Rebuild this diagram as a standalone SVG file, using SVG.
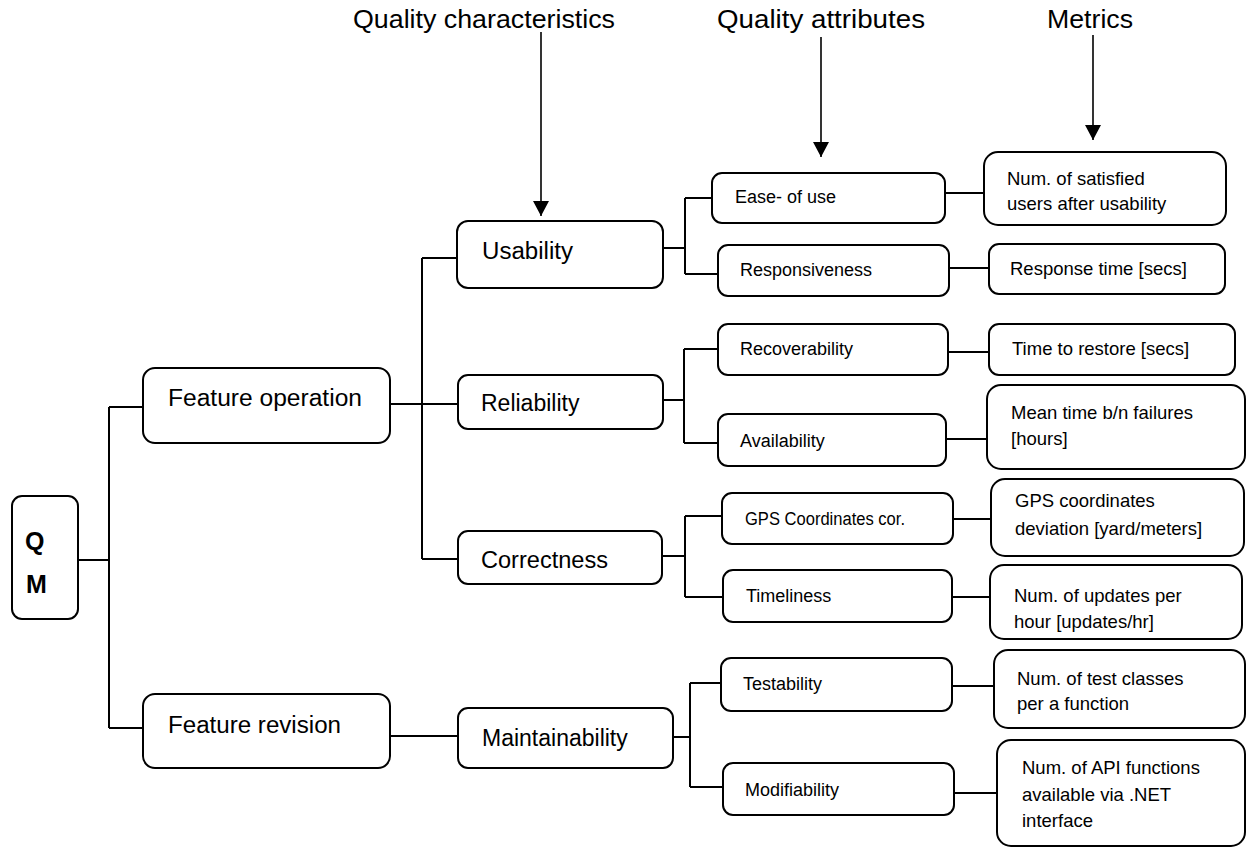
<svg xmlns="http://www.w3.org/2000/svg" width="1247" height="848" viewBox="0 0 1247 848">
<defs>
<style>
.box{fill:#fff;stroke:#000;stroke-width:2}
.ln{fill:none;stroke:#000;stroke-width:2}
.ar{fill:none;stroke:#000;stroke-width:1.6}
text{font-family:"Liberation Sans",Arial,sans-serif;fill:#000}
.h{font-size:26px}
.c{font-size:23px}
.a{font-size:18px}
.m{font-size:18.5px}
.b{font-size:25px;font-weight:bold}
</style>
<marker id="ah" viewBox="0 0 15 16" refX="15" refY="8" markerWidth="15" markerHeight="16" markerUnits="userSpaceOnUse" orient="auto">
<path d="M0,0 L15,8 L0,16 z" fill="#000"/>
</marker>
</defs>
<rect width="1247" height="848" fill="#fff"/>

<g id="headers">
<text class="h" x="353" y="28" textLength="262" lengthAdjust="spacingAndGlyphs">Quality characteristics</text>
<text class="h" x="717" y="28" textLength="208" lengthAdjust="spacingAndGlyphs">Quality attributes</text>
<text class="h" x="1047" y="28" textLength="86" lengthAdjust="spacingAndGlyphs">Metrics</text>
</g>

<g id="connectors">
<line class="ar" x1="541" y1="32" x2="541" y2="216" marker-end="url(#ah)"/>
<line class="ar" x1="821" y1="37" x2="821" y2="157" marker-end="url(#ah)"/>
<line class="ar" x1="1093" y1="35" x2="1093" y2="140" marker-end="url(#ah)"/>
<path class="ln" d="M78,560 H109 M109,407 V728 M109,407 H143 M109,728 H143"/>
<path class="ln" d="M390,404 H458 M422,258 V559 M422,258 H457 M422,559 H458"/>
<path class="ln" d="M390,736 H458"/>
<path class="ln" d="M663,248 H685 M685,198 V274 M685,198 H712 M685,274 H718"/>
<path class="ln" d="M663,400 H684 M684,349 V443 M684,349 H718 M684,443 H718"/>
<path class="ln" d="M662,556 H685 M685,516 V597 M685,516 H722 M685,597 H723"/>
<path class="ln" d="M673,737 H690 M690,683 V787 M690,683 H721 M690,787 H723"/>
<path class="ln" d="M945,193 H984 M949,268 H989 M948,352 H989 M946,439 H987 M953,519 H991 M952,597 H990 M952,686 H994 M954,793 H997"/>
</g>

<g id="qm">
<rect class="box" x="12" y="496" width="66" height="123" rx="10"/>
<text class="b" x="25" y="550">Q</text>
<text class="b" x="26" y="593">M</text>
</g>

<g id="feature-operation">
<rect class="box" x="143" y="368" width="247" height="75" rx="12"/>
<text class="c" x="168" y="406" textLength="194" lengthAdjust="spacingAndGlyphs">Feature operation</text>
</g>
<g id="feature-revision">
<rect class="box" x="143" y="694" width="247" height="74" rx="12"/>
<text class="c" x="168" y="733" textLength="173" lengthAdjust="spacingAndGlyphs">Feature revision</text>
</g>

<g id="usability">
<rect class="box" x="457" y="221" width="206" height="67" rx="11"/>
<text class="c" x="482" y="259" textLength="91" lengthAdjust="spacingAndGlyphs">Usability</text>
</g>
<g id="reliability">
<rect class="box" x="458" y="375" width="205" height="54" rx="10"/>
<text class="c" x="481" y="411">Reliability</text>
</g>
<g id="correctness">
<rect class="box" x="458" y="531" width="204" height="53" rx="10"/>
<text class="c" x="481" y="568" textLength="127" lengthAdjust="spacingAndGlyphs">Correctness</text>
</g>
<g id="maintainability">
<rect class="box" x="458" y="708" width="215" height="60" rx="10"/>
<text class="c" x="482" y="746">Maintainability</text>
</g>

<g id="ease-of-use">
<rect class="box" x="712" y="173" width="233" height="50" rx="10"/>
<text class="a" x="735" y="203">Ease- of use</text>
</g>
<g id="responsiveness">
<rect class="box" x="718" y="245" width="231" height="51" rx="10"/>
<text class="a" x="740" y="276">Responsiveness</text>
</g>
<g id="recoverability">
<rect class="box" x="718" y="324" width="230" height="51" rx="10"/>
<text class="a" x="740" y="355">Recoverability</text>
</g>
<g id="availability">
<rect class="box" x="718" y="414" width="228" height="52" rx="10"/>
<text class="a" x="740" y="447">Availability</text>
</g>
<g id="gps-cor">
<rect class="box" x="722" y="493" width="231" height="51" rx="10"/>
<text class="a" x="745" y="525" textLength="160" lengthAdjust="spacingAndGlyphs">GPS Coordinates cor.</text>
</g>
<g id="timeliness">
<rect class="box" x="723" y="570" width="229" height="52" rx="10"/>
<text class="a" x="746" y="602">Timeliness</text>
</g>
<g id="testability">
<rect class="box" x="721" y="658" width="231" height="53" rx="10"/>
<text class="a" x="743" y="690">Testability</text>
</g>
<g id="modifiability">
<rect class="box" x="723" y="763" width="231" height="52" rx="10"/>
<text class="a" x="745" y="796">Modifiability</text>
</g>

<g id="m-satisfied">
<rect class="box" x="984" y="152" width="242" height="73" rx="14"/>
<text class="m" x="1007" y="185">Num. of satisfied</text>
<text class="m" x="1007" y="210">users after usability</text>
</g>
<g id="m-response">
<rect class="box" x="989" y="244" width="236" height="50" rx="10"/>
<text class="m" x="1010" y="275">Response time [secs]</text>
</g>
<g id="m-restore">
<rect class="box" x="989" y="324" width="246" height="51" rx="10"/>
<text class="m" x="1012" y="355">Time to restore [secs]</text>
</g>
<g id="m-mtbf">
<rect class="box" x="987" y="385" width="258" height="84" rx="14"/>
<text class="m" x="1011" y="419">Mean time b/n failures</text>
<text class="m" x="1011" y="445">[hours]</text>
</g>
<g id="m-gps">
<rect class="box" x="991" y="479" width="253" height="77" rx="14"/>
<text class="m" x="1015" y="507">GPS coordinates</text>
<text class="m" x="1015" y="535">deviation [yard/meters]</text>
</g>
<g id="m-updates">
<rect class="box" x="990" y="565" width="252" height="74" rx="14"/>
<text class="m" x="1014" y="602">Num. of updates per</text>
<text class="m" x="1014" y="628">hour [updates/hr]</text>
</g>
<g id="m-test">
<rect class="box" x="994" y="650" width="251" height="78" rx="14"/>
<text class="m" x="1017" y="685">Num. of test classes</text>
<text class="m" x="1017" y="710">per a function</text>
</g>
<g id="m-api">
<rect class="box" x="997" y="740" width="248" height="106" rx="14"/>
<text class="m" x="1022" y="774">Num. of API functions</text>
<text class="m" x="1022" y="801">available via .NET</text>
<text class="m" x="1022" y="827">interface</text>
</g>
</svg>
